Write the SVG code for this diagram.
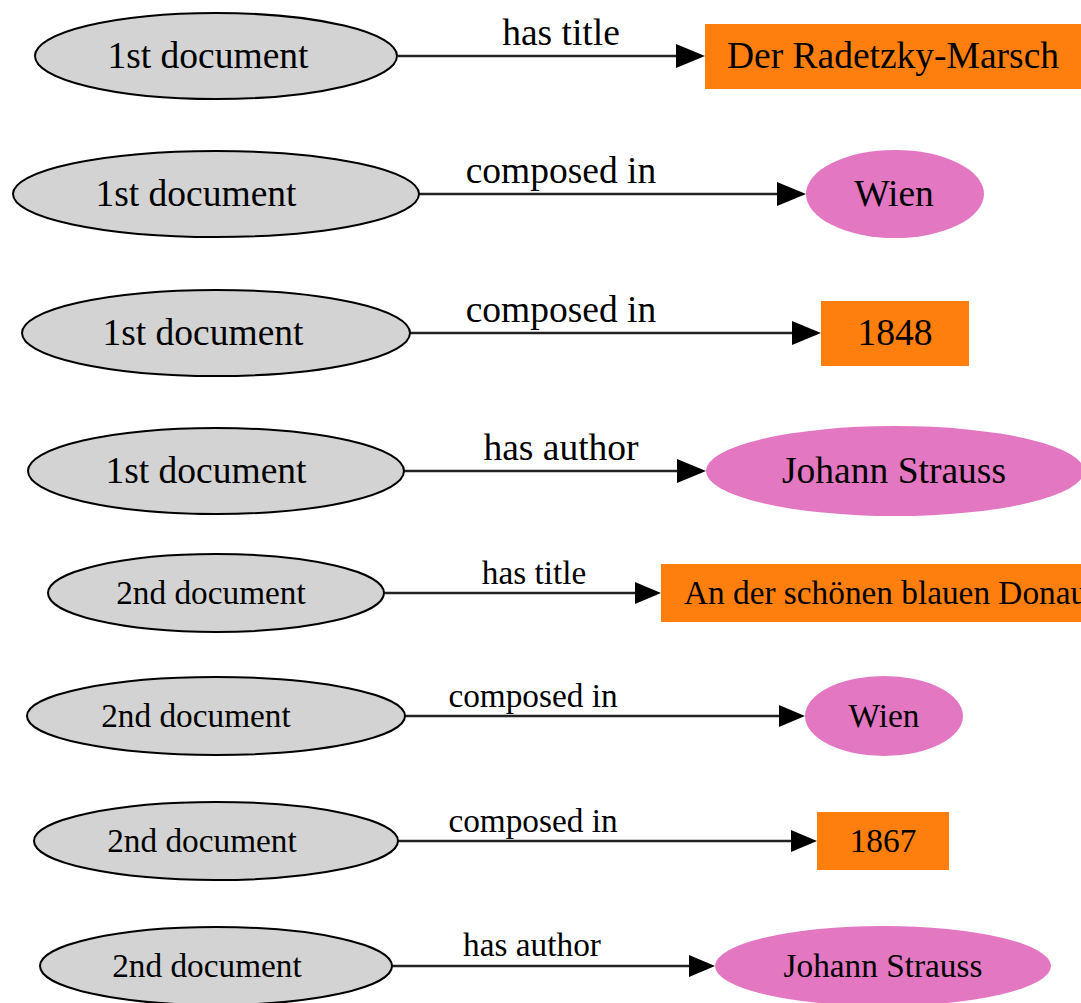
<svg xmlns="http://www.w3.org/2000/svg" width="1081" height="1003" viewBox="0 0 1081 1003">
  <style>
    .doc { fill: #d3d3d3; stroke: #000; stroke-width: 2; }
    .lit { fill: #ff7f0e; stroke: none; }
    .ent { fill: #e377c2; stroke: none; }
    .edge { stroke: #222; stroke-width: 2.6; fill: none; }
    text { font-family: "Liberation Serif", "Times New Roman", serif; fill: #000; text-anchor: middle; }
    .big { font-size: 37.5px; }
    .small { font-size: 33.3px; }
  </style>
  <defs>
    <marker id="arrowL" markerUnits="userSpaceOnUse" markerWidth="30" markerHeight="26" refX="0" refY="12" orient="auto">
      <path d="M0,0 L29,12 L0,24 z" fill="#000"/>
    </marker>
    <marker id="arrowS" markerUnits="userSpaceOnUse" markerWidth="28" markerHeight="24" refX="0" refY="11" orient="auto">
      <path d="M0,0 L26,11 L0,22 z" fill="#000"/>
    </marker>
  </defs>
  <rect width="1081" height="1003" fill="#fff"/>

  <!-- connectors -->
  <g id="edges">
    <g id="e1"><path class="edge" d="M398,56 H676" marker-end="url(#arrowL)"/><text class="big" x="561" y="45">has title</text></g>
    <g id="e2"><path class="edge" d="M419,194 H777" marker-end="url(#arrowL)"/><text class="big" x="561" y="183">composed in</text></g>
    <g id="e3"><path class="edge" d="M410,333 H792" marker-end="url(#arrowL)"/><text class="big" x="561" y="322">composed in</text></g>
    <g id="e4"><path class="edge" d="M404,471 H677" marker-end="url(#arrowL)"/><text class="big" x="561" y="460">has author</text></g>
    <g id="e5"><path class="edge" d="M384,593 H635" marker-end="url(#arrowS)"/><text class="small" x="534" y="584">has title</text></g>
    <g id="e6"><path class="edge" d="M405,716 H779" marker-end="url(#arrowS)"/><text class="small" x="533" y="707">composed in</text></g>
    <g id="e7"><path class="edge" d="M398,841 H791" marker-end="url(#arrowS)"/><text class="small" x="533" y="832">composed in</text></g>
    <g id="e8"><path class="edge" d="M392,966 H689" marker-end="url(#arrowS)"/><text class="small" x="532" y="956">has author</text></g>
  </g>

  <!-- subject nodes -->
  <g id="doc1a"><ellipse class="doc" cx="216" cy="56" rx="181" ry="43"/><text class="big" x="208" y="68">1st document</text></g>
  <g id="doc1b"><ellipse class="doc" cx="216" cy="194" rx="203" ry="43"/><text class="big" x="196" y="206">1st document</text></g>
  <g id="doc1c"><ellipse class="doc" cx="216" cy="333" rx="194" ry="43"/><text class="big" x="203" y="345">1st document</text></g>
  <g id="doc1d"><ellipse class="doc" cx="216" cy="471" rx="188" ry="43"/><text class="big" x="206" y="483">1st document</text></g>
  <g id="doc2a"><ellipse class="doc" cx="216" cy="593" rx="168" ry="39"/><text class="small" x="211" y="604">2nd document</text></g>
  <g id="doc2b"><ellipse class="doc" cx="216" cy="716" rx="189" ry="39"/><text class="small" x="196" y="727">2nd document</text></g>
  <g id="doc2c"><ellipse class="doc" cx="216" cy="841" rx="182" ry="39"/><text class="small" x="202" y="852">2nd document</text></g>
  <g id="doc2d"><ellipse class="doc" cx="216" cy="966" rx="176" ry="39"/><text class="small" x="207" y="977">2nd document</text></g>

  <!-- object nodes -->
  <g id="title1"><rect class="lit" x="705" y="24" width="378" height="65"/><text class="big" x="893" y="68">Der Radetzky-Marsch</text></g>
  <g id="place1"><ellipse class="ent" cx="895" cy="194" rx="89" ry="44"/><text class="big" x="894" y="206">Wien</text></g>
  <g id="year1"><rect class="lit" x="821" y="301" width="148" height="65"/><text class="big" x="895" y="345">1848</text></g>
  <g id="author1"><ellipse class="ent" cx="895" cy="471" rx="189" ry="45"/><text class="big" x="894" y="483">Johann Strauss</text></g>
  <g id="title2"><rect class="lit" x="661" y="564" width="422" height="58"/><text class="small" x="684" y="604" style="text-anchor:start">An der schönen blauen Donau</text></g>
  <g id="place2"><ellipse class="ent" cx="884" cy="716" rx="79" ry="40"/><text class="small" x="884" y="727">Wien</text></g>
  <g id="year2"><rect class="lit" x="817" y="812" width="132" height="58"/><text class="small" x="883" y="852">1867</text></g>
  <g id="author2"><ellipse class="ent" cx="883" cy="966" rx="168" ry="40"/><text class="small" x="883" y="977">Johann Strauss</text></g>
</svg>
